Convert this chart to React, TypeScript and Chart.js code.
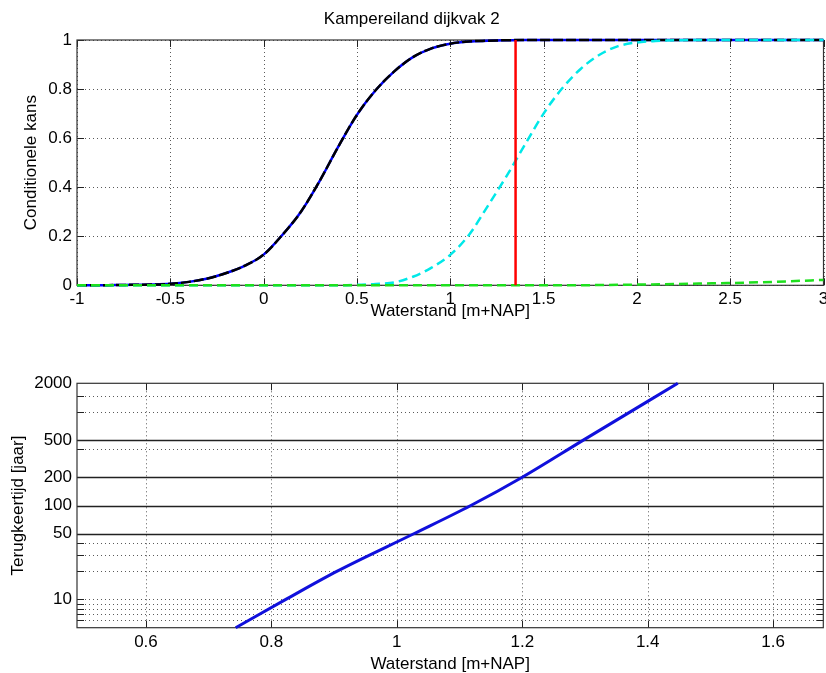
import React, { useEffect, useRef } from 'react';
import { Chart, registerables } from 'chart.js';

Chart.register(...registerables);

// ---------- texts ----------
const TITLE = 'Kampereiland dijkvak 2';
const X_LABEL = 'Waterstand [m+NAP]';
const TOP_Y_LABEL = 'Conditionele kans';
const BOTTOM_Y_LABEL = 'Terugkeertijd [jaar]';

// ---------- top plot data ----------
const topXTicks = [-1, -0.5, 0, 0.5, 1, 1.5, 2, 2.5, 3];
const topYTicks = [0, 0.2, 0.4, 0.6, 0.8, 1];

const cdfX = [-1, -0.9, -0.8, -0.7, -0.6, -0.5, -0.4, -0.3, -0.2, -0.1, 0, 0.1, 0.2, 0.3, 0.4, 0.5, 0.6, 0.7, 0.8, 0.9, 1.0, 1.1, 1.2, 1.3, 1.4, 1.6, 2, 2.5, 3];
const blueCdfY = [0, 0, 0.001, 0.002, 0.003, 0.006, 0.014, 0.028, 0.05, 0.08, 0.125, 0.205, 0.3, 0.425, 0.565, 0.695, 0.795, 0.872, 0.93, 0.966, 0.985, 0.994, 0.997, 0.999, 1, 1, 1, 1, 1];
const blackCdfY = [0, 0, 0.001, 0.002, 0.003, 0.006, 0.014, 0.028, 0.05, 0.08, 0.125, 0.205, 0.3, 0.425, 0.565, 0.695, 0.795, 0.872, 0.93, 0.966, 0.985, 0.994, 0.997, 0.999, 1, 1, 1, 1, 1];

const cyanX = [-1, 0.4, 0.5, 0.6, 0.7, 0.8, 0.9, 1.0, 1.1, 1.2, 1.3, 1.4, 1.5, 1.6, 1.7, 1.8, 1.9, 2.0, 2.1, 2.2, 2.4, 3];
const cyanY = [0, 0, 0.002, 0.005, 0.012, 0.035, 0.072, 0.124, 0.205, 0.322, 0.443, 0.573, 0.7, 0.803, 0.883, 0.94, 0.975, 0.99, 0.996, 0.999, 1, 1];

const greenX = [-1, 1.6, 1.8, 2.0, 2.2, 2.4, 2.6, 2.8, 3];
const greenY = [0, 0, 0.001, 0.003, 0.005, 0.008, 0.011, 0.016, 0.022];

const redX = [1.35, 1.35];
const redY = [0, 1];

// ---------- bottom plot data ----------
const bottomXTicks = [0.6, 0.8, 1, 1.2, 1.4, 1.6];
const bottomYTicks = [10, 50, 100, 200, 500, 2000];
const bottomYSolid = [50, 100, 200, 500];
const bottomYMinor = [6, 7, 8, 9, 10, 20, 30, 40, 400, 1000, 1450];

const returnX = [0.743, 0.823, 0.905, 1.027, 1.118, 1.2, 1.298, 1.448];
const returnY = [5, 10, 20, 50, 100, 200, 500, 2000];

// ---------- styling ----------
const FONT = { family: '"Liberation Sans", Arial, Helvetica, sans-serif', size: 17 };

const pts = (xs: number[], ys: number[]) => xs.map((x, i) => ({ x, y: ys[i] }));

type AxesOpts = { xGrid: number[]; yDotted: number[]; ySolid: number[]; yTickMarks: number[] };

function matlabAxes(o: AxesOpts) {
  return {
    id: 'matlabAxes',
    beforeDatasetsDraw(chart: any) {
      const { ctx, chartArea: a, scales } = chart;
      const xs = scales.x;
      const ys = scales.y;
      const line = (x1: number, y1: number, x2: number, y2: number) => {
        ctx.beginPath();
        ctx.moveTo(x1, y1);
        ctx.lineTo(x2, y2);
        ctx.stroke();
      };
      ctx.save();
      // dotted grid
      ctx.strokeStyle = '#5a5a5a';
      ctx.lineWidth = 1;
      ctx.setLineDash([1, 3]);
      for (const v of o.xGrid) {
        const px = Math.round(xs.getPixelForValue(v)) + 0.5;
        line(px, a.top, px, a.bottom);
      }
      for (const v of o.yDotted) {
        const py = Math.round(ys.getPixelForValue(v)) + 0.5;
        line(a.left, py, a.right, py);
      }
      ctx.setLineDash([]);
      // solid reference lines
      ctx.strokeStyle = '#222';
      ctx.lineWidth = 1.3;
      for (const v of o.ySolid) {
        const py = Math.round(ys.getPixelForValue(v)) + 0.5;
        line(a.left, py, a.right, py);
      }
      // tick marks (inside)
      ctx.strokeStyle = '#222';
      ctx.lineWidth = 1;
      const tl = 7;
      for (const v of o.xGrid) {
        const px = Math.round(xs.getPixelForValue(v)) + 0.5;
        line(px, a.bottom, px, a.bottom - tl);
        line(px, a.top, px, a.top + tl);
      }
      for (const v of o.yTickMarks) {
        const py = Math.round(ys.getPixelForValue(v)) + 0.5;
        line(a.left, py, a.left + tl, py);
        line(a.right, py, a.right - tl, py);
      }
      // box
      ctx.strokeStyle = '#333';
      ctx.lineWidth = 1.2;
      ctx.strokeRect(a.left, a.top, a.right - a.left, a.bottom - a.top);
      ctx.restore();
    },
  };
}

function xScale(min: number, max: number, ticks: number[], height: number, tickPad: number, titlePad: number) {
  return {
    type: 'linear',
    min,
    max,
    afterBuildTicks: (s: any) => {
      s.ticks = ticks.map((value) => ({ value }));
    },
    afterFit: (s: any) => {
      s.height = height;
      s.paddingLeft = 0;
      s.paddingRight = 0;
    },
    grid: { display: false, drawTicks: false },
    border: { display: false },
    ticks: { color: '#000', font: FONT, padding: tickPad, maxRotation: 0, autoSkip: false, callback: (v: any) => String(v) },
    title: { display: true, text: X_LABEL, color: '#000', font: FONT, padding: { top: 0, bottom: titlePad } },
  };
}

function yScale(type: string, min: number, max: number, ticks: number[], label: string, titlePad: number) {
  return {
    type,
    min,
    max,
    afterBuildTicks: (s: any) => {
      s.ticks = ticks.map((value) => ({ value }));
    },
    afterFit: (s: any) => {
      s.width = 77;
      s.paddingTop = 0;
      s.paddingBottom = 0;
    },
    grid: { display: false, drawTicks: false },
    border: { display: false },
    ticks: { color: '#000', font: FONT, padding: 5, autoSkip: false, callback: (v: any) => String(v) },
    title: { display: true, text: label, color: '#000', font: FONT, padding: { top: titlePad, bottom: 0 } },
  };
}

export default function App() {
  const topRef = useRef<HTMLCanvasElement>(null);
  const botRef = useRef<HTMLCanvasElement>(null);

  useEffect(() => {
    document.body.style.margin = '0';
    const common = {
      animation: false as const,
      responsive: false,
      events: [] as any[],
    };
    const lineDs = (data: any[], color: string, width: number, dash: number[], order: number) => ({
      data,
      borderColor: color,
      backgroundColor: color,
      borderWidth: width,
      borderDash: dash,
      pointRadius: 0,
      fill: false,
      cubicInterpolationMode: 'monotone' as const,
      clip: 6,
      order,
    });

    const top = new Chart(topRef.current!, {
      type: 'line',
      data: {
        datasets: [
          lineDs(pts(cdfX, blueCdfY), '#0000ff', 2.5, [], 5),
          lineDs(pts(cdfX, blackCdfY), '#000000', 2.5, [10, 3], 4),
          lineDs(pts(cyanX, cyanY), '#00e8e8', 2.5, [9, 5], 3),
          lineDs(pts(greenX, greenY), '#1ee01e', 2.5, [9, 5], 2),
          { ...lineDs(pts(redX, redY), '#ff0000', 2.5, [], 1), cubicInterpolationMode: 'default' as const, tension: 0 },
        ],
      },
      options: {
        ...common,
        layout: { padding: { left: 0, right: 2.5, top: 0, bottom: 0 } },
        plugins: {
          legend: { display: false },
          tooltip: { enabled: false },
          title: { display: true, text: TITLE, color: '#000', font: { ...FONT, weight: 'normal' as const }, padding: { top: 9, bottom: 10.6 } },
        },
        scales: {
          x: xScale(-1, 3, topXTicks, 37.7, 3.5, 1) as any,
          y: yScale('linear', 0, 1, topYTicks, TOP_Y_LABEL, 21.3) as any,
        },
      },
      plugins: [matlabAxes({ xGrid: topXTicks, yDotted: topYTicks, ySolid: [], yTickMarks: topYTicks })],
    });

    const bot = new Chart(botRef.current!, {
      type: 'line',
      data: {
        datasets: [lineDs(pts(returnX, returnY), '#1010dc', 3, [], 1)],
      },
      options: {
        ...common,
        layout: { padding: { left: 0, right: 2.7, top: 28.3, bottom: 0 } },
        plugins: {
          legend: { display: false },
          tooltip: { enabled: false },
          title: { display: false },
        },
        scales: {
          x: xScale(0.49, 1.68, bottomXTicks, 47.3, 4.5, 0) as any,
          y: yScale('logarithmic', 5, 2000, bottomYTicks, BOTTOM_Y_LABEL, 8.3) as any,
        },
      },
      plugins: [matlabAxes({ xGrid: bottomXTicks, yDotted: bottomYMinor, ySolid: bottomYSolid, yTickMarks: [...bottomYMinor, ...bottomYSolid] })],
    });

    return () => {
      top.destroy();
      bot.destroy();
    };
  }, []);

  return (
    <div style={{ position: 'fixed', left: 0, top: 0, width: 826, height: 673, background: '#fff', overflow: 'hidden' }}>
      <canvas ref={topRef} width={826} height={323} style={{ position: 'absolute', left: 0, top: 0 }} />
      <canvas ref={botRef} width={826} height={320} style={{ position: 'absolute', left: 0, top: 355 }} />
    </div>
  );
}
